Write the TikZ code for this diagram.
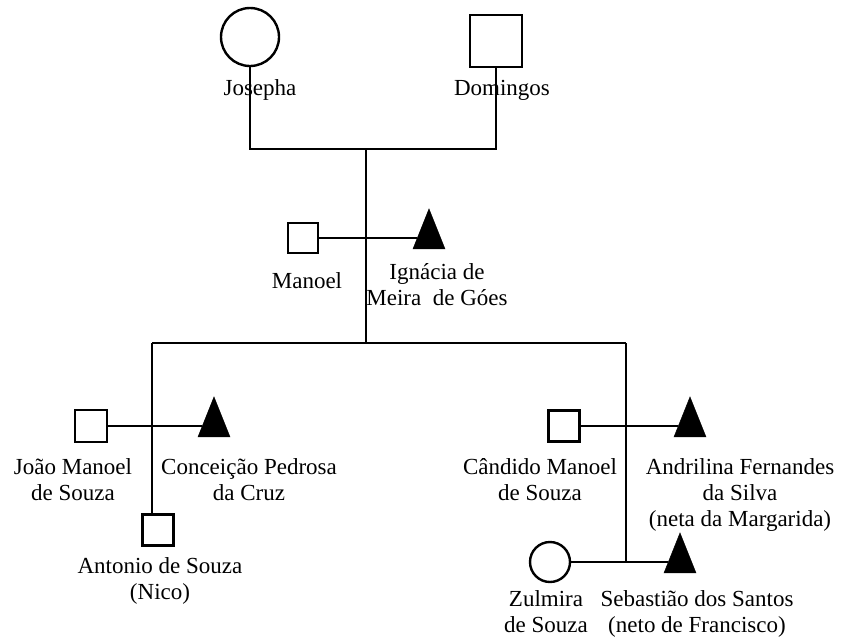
\documentclass[tikz,border=0pt]{standalone}
\usepackage{fontspec}
\setmainfont{Liberation Serif}
\usetikzlibrary{shapes.geometric}

\begin{document}
\begin{tikzpicture}[x=1pt, y=-1pt,
    male/.style={draw, rectangle, line width=2.4pt, inner sep=0pt, minimum size=#1},
    female/.style={draw, circle, line width=2.4pt, inner sep=0pt, minimum size=#1},
    tri/.style={isosceles triangle, isosceles triangle stretches, shape border rotate=90, fill=black, draw=black, inner sep=0pt, minimum width=32pt, minimum height=40pt},
    pname/.style={anchor=north, align=center, inner sep=0pt, font=\fontsize{23}{26}\selectfont, execute at begin node=\strut},
    tie/.style={line width=1.2pt},
  ]
  \useasboundingbox (0,0) rectangle (842,641);

  % grandparents
  \node[female=58pt] (josepha) at (250,37) {};
  \node[male=52pt] (domingos) at (496,41) {};
  \node[pname] (josephaN) at (260,77) {Josepha};
  \node[pname] (domingosN) at (502,77) {Domingos};
  \coordinate (pbar) at (366,149);
  \draw[tie] (josepha) -- (josepha |- pbar) -- (domingos |- pbar) -- (domingos);

  % Manoel and Ignacia
  \node[male=30pt] (manoel) at (303,238) {};
  \node[tri] (ignacia) at (429,238) {};
  \draw[tie] (manoel) -- (ignacia);
  \node[pname] (manoelN) at (307,270) {Manoel};
  \node[pname] (ignaciaN) at (437,263) {Ignácia de\\Meira \ de Góes};
  \coordinate (cbar) at (366,343);
  \draw[tie] (pbar) -- (cbar);

  % children bar
  \coordinate (lbar) at (152,343);
  \coordinate (rbar) at (626,343);
  \draw[tie] (lbar) -- (rbar);

  % left branch
  \node[male=32pt] (joao) at (91,426) {};
  \node[tri] (conceicao) at (214,426) {};
  \draw[tie] (joao) -- (conceicao);
  \node[pname] (joaoN) at (73,458) {João Manoel\\de Souza};
  \node[pname] (conceicaoN) at (249,458) {Conceição Pedrosa\\da Cruz};
  \node[male=31pt] (antonio) at (158,530) {};
  \draw[tie] (lbar) -- (lbar |- antonio.north);
  \node[pname] (antonioN) at (160,557) {Antonio de Souza\\(Nico)};

  % right branch
  \node[male=31pt] (candido) at (564,426) {};
  \node[tri] (andrilina) at (690,426) {};
  \draw[tie] (candido) -- (andrilina);
  \node[pname] (candidoN) at (540,458) {Cândido Manoel\\de Souza};
  \node[pname] (andrilinaN) at (740,458) {Andrilina Fernandes\\da Silva\\(neta da Margarida)};
  \node[female=40pt] (zulmira) at (550,562) {};
  \node[tri] (sebastiao) at (680,562) {};
  \draw[tie] (zulmira) -- (sebastiao);
  \draw[tie] (rbar) -- (rbar |- zulmira);
  \node[pname] (zulmiraN) at (546,590) {Zulmira\\de Souza};
  \node[pname] (sebastiaoN) at (697,590) {Sebastião dos Santos\\(neto de Francisco)};
\end{tikzpicture}
\end{document}
